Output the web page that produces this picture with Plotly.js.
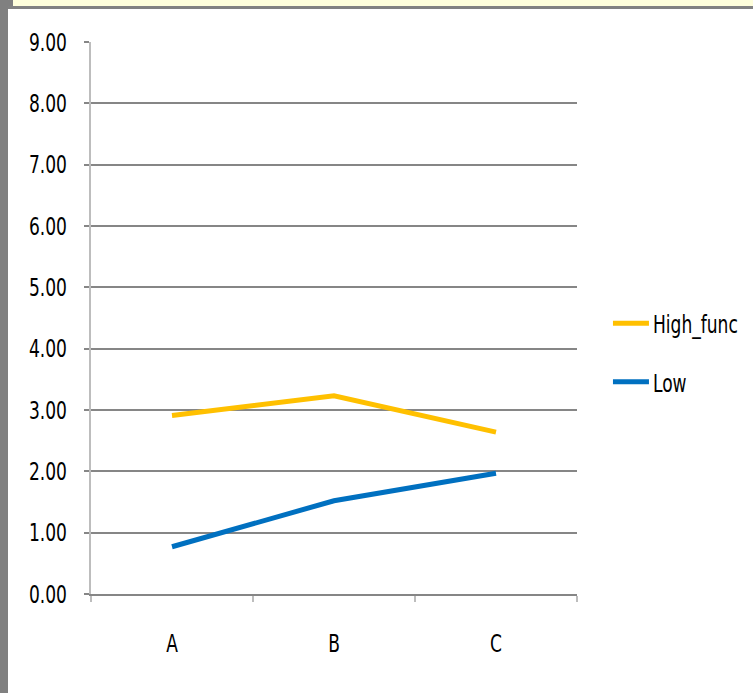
<!DOCTYPE html>
<html>
<head>
<meta charset="utf-8">
<script src="https://cdn.plot.ly/plotly-3.0.1.min.js"></script>
<style>
  html, body { margin: 0; padding: 0; background: #ffffff; }
  #wrap { position: relative; width: 753px; height: 693px; overflow: hidden; }
  #chart { position: absolute; left: 0; top: 0; width: 753px; height: 693px; }
  .frame { position: absolute; pointer-events: none; }
</style>
</head>
<body>
<div id="wrap">
  <div id="chart"></div>
  <!-- window frame around the sheet -->
  <div class="frame" style="left:0;top:0;width:8px;height:693px;background:#808080;"></div>
  <div class="frame" style="left:0;top:0;width:13px;height:7px;background:#808080;"></div>
  <div class="frame" style="left:13px;top:0;width:740px;height:6px;background:#ffffdc;"></div>
  <div class="frame" style="left:8px;top:6px;width:745px;height:3px;background:#828282;"></div>
</div>
<script>
const categories = ['A', 'B', 'C'];
const highFunc = [2.91, 3.23, 2.64];
const low = [0.77, 1.52, 1.97];
const yTicks = [0, 1, 2, 3, 4, 5, 6, 7, 8, 9];

const FONT = '"DejaVu Sans Condensed", "DejaVu Sans", sans-serif';
const TEXT_SQUEEZE = 0.76;   // horizontal squeeze for a tall, narrow label face

const traces = [
  {
    x: categories, y: highFunc, name: 'High_func', type: 'scatter', mode: 'lines',
    line: { color: '#FFC000', width: 5 }, legendgroup: 'g1'
  },
  {
    x: categories, y: low, name: 'Low', type: 'scatter', mode: 'lines',
    line: { color: '#0070C0', width: 5 }, legendgroup: 'g2'
  }
];

const layout = {
  width: 753, height: 693,
  margin: { l: 91, r: 176, t: 42, b: 99, pad: 0, autoexpand: false },
  paper_bgcolor: '#ffffff', plot_bgcolor: '#ffffff',
  font: { family: FONT, size: 25, color: '#000000' },
  showlegend: true,
  legend: {
    x: 1.074, xref: 'paper', y: 0.4375, xanchor: 'left', yanchor: 'middle',
    font: { family: FONT, size: 25, color: '#000000' },
    traceorder: 'grouped', tracegroupgap: 23,
    bgcolor: 'rgba(0,0,0,0)'
  },
  xaxis: {
    type: 'category', range: [-0.5, 2.5], fixedrange: true,
    showgrid: false, zeroline: false,
    showline: true, linecolor: '#868686', linewidth: 2,
    ticks: 'outside', tickson: 'boundaries', ticklen: 6, tickcolor: '#BDBDBD', tickwidth: 2,
    ticklabelstandoff: 26,
    tickfont: { family: FONT, size: 25, color: '#000000' }
  },
  yaxis: {
    range: [0, 9], fixedrange: true,
    tickmode: 'array', tickvals: yTicks, tickformat: '.2f',
    showgrid: true, gridcolor: '#868686', gridwidth: 2,
    zeroline: false,
    showline: true, linecolor: '#BDBDBD', linewidth: 2,
    ticks: 'outside', ticklen: 5, tickcolor: '#868686', tickwidth: 2,
    ticklabelstandoff: 12,
    tickfont: { family: FONT, size: 25, color: '#000000' }
  }
};

// Narrow the label glyphs around their own anchor point, and lengthen legend samples.
function finishLabels(gd) {
  gd.querySelectorAll('.ytick text, .xtick text, .legendtext').forEach(function (el) {
    const x = parseFloat(el.getAttribute('x')) || 0;
    const y = parseFloat(el.getAttribute('y')) || 0;
    const base = el.getAttribute('transform') || '';
    el.setAttribute('transform',
      base + ' translate(' + x + ',' + y + ') scale(' + TEXT_SQUEEZE + ',1) translate(' + (-x) + ',' + (-y) + ')');
  });
  gd.querySelectorAll('.legendlines path').forEach(function (p) {
    p.setAttribute('d', 'M-8,0h44');
  });
}

Plotly.newPlot('chart', traces, layout, { displayModeBar: false, staticPlot: true })
  .then(finishLabels);
</script>
</body>
</html>
